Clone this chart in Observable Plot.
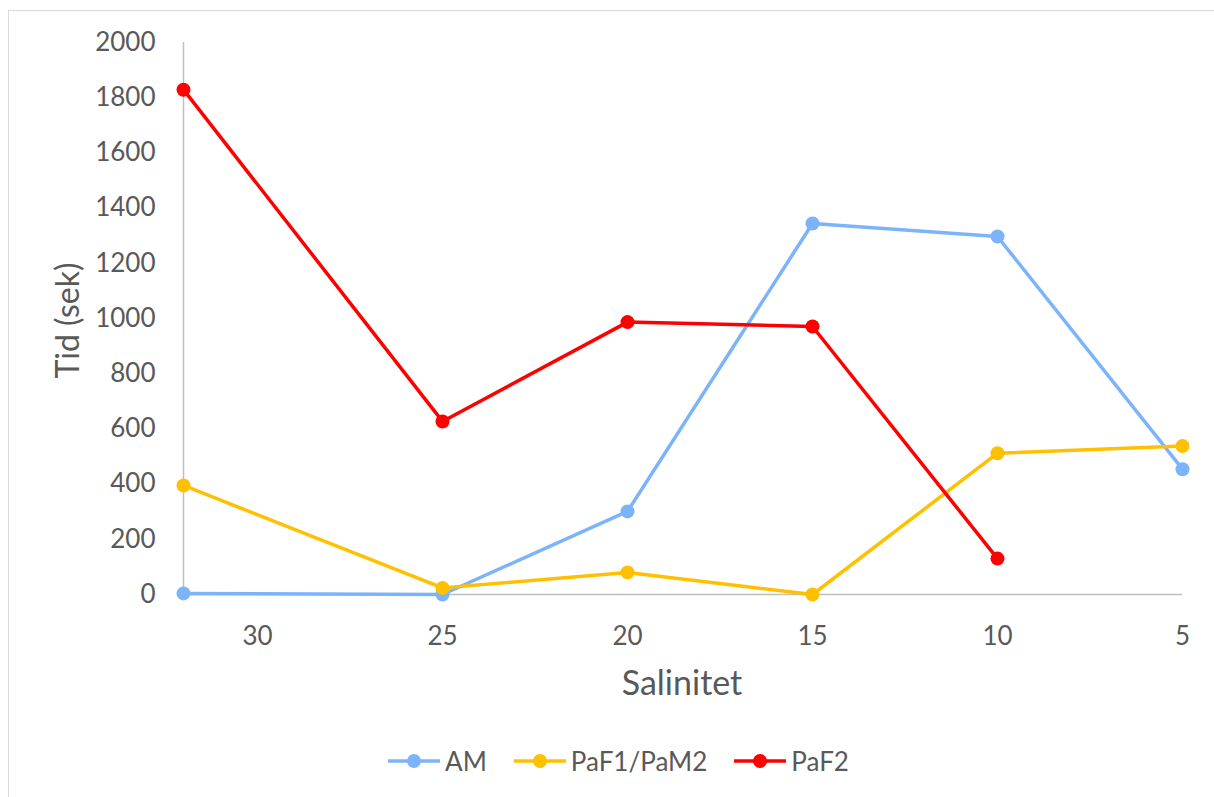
<!DOCTYPE html>
<html>
<head>
<meta charset="utf-8">
<script src="https://cdn.jsdelivr.net/npm/d3@7"></script>
<script src="https://cdn.jsdelivr.net/npm/@observablehq/plot@0.6"></script>
<style>
  html, body { margin: 0; padding: 0; background: #fff; overflow: hidden; }
  #frame {
    position: absolute; left: 8px; top: 10px; width: 1230px; height: 820px;
    border: 1.5px solid #d9d9d9; box-sizing: border-box;
  }
  #chart { position: absolute; left: 0; top: 0; }
  #legend {
    position: absolute; left: 0; top: 745px; width: 1236px;
    display: flex; justify-content: center; align-items: center;
    font-family: Lato, sans-serif; font-size: 26px; color: #595959;
  }
  .item { display: flex; align-items: center; margin: 0 13px; }
  .item svg { margin-right: 4px; }
</style>
</head>
<body>
<div id="frame"></div>
<div id="chart"></div>
<div id="legend"></div>
<script>
// Salinity levels (x) and time in seconds (y) for each test group
const salinity = [32, 25, 20, 15, 10, 5];
const xTicks = [30, 25, 20, 15, 10, 5];
const yTicks = [0, 200, 400, 600, 800, 1000, 1200, 1400, 1600, 1800, 2000];

const seriesNames = ["AM", "PaF1/PaM2", "PaF2"];
const seriesColors = ["#7cb4fb", "#ffc000", "#ff0000"];

const am   = [4, 0, 301, 1344, 1297, 454];
const paf1 = [395, 24, 80, 0, 512, 538];
const paf2 = [1829, 627, 987, 971, 130, null];

const values = [am, paf1, paf2];
const rows = seriesNames.flatMap((name, i) =>
  salinity.map((s, j) => ({series: name, salinity: s, tid: values[i][j]}))
    .filter(d => d.tid != null)
);

const textColor = "#595959";
const axisColor = "#bfbfbf";

const chart = Plot.plot({
  width: 1214,
  height: 740,
  marginLeft: 183,
  marginRight: 32,
  marginTop: 42,
  marginBottom: 146,
  style: {fontFamily: "Lato, sans-serif", background: "transparent", overflow: "visible"},
  x: {domain: [32, 5], ticks: xTicks},
  y: {domain: [0, 2000], ticks: yTicks},
  color: {domain: seriesNames, range: seriesColors},
  marks: [
    Plot.ruleX([32], {stroke: axisColor, strokeWidth: 1.5}),
    Plot.ruleY([0], {stroke: axisColor, strokeWidth: 1.5}),
    Plot.axisY({
      ticks: yTicks, tickSize: 0, tickPadding: 28, tickFormat: d => String(d),
      fontSize: 26, fill: textColor, label: null
    }),
    Plot.axisX({
      ticks: xTicks, tickSize: 0, tickPadding: 32, tickFormat: d => String(d),
      fontSize: 26, fill: textColor, label: null
    }),
    Plot.text(["Tid (sek)"], {
      frameAnchor: "left", textAnchor: "middle", dx: -115, dy: 2, rotate: -90,
      fontSize: 32, fill: textColor
    }),
    Plot.text(["Salinitet"], {
      frameAnchor: "bottom", dy: 100, dx: -1,
      fontSize: 34, fill: textColor
    }),
    Plot.line(rows, {
      x: "salinity", y: "tid", z: "series", stroke: "series",
      strokeWidth: 3.5, strokeLinejoin: "round", strokeLinecap: "round"
    }),
    Plot.dot(rows, {
      x: "salinity", y: "tid", fill: "series", r: 7, stroke: "none"
    })
  ]
});
document.getElementById("chart").appendChild(chart);

// Legend: line-and-marker swatch followed by the series name
const legend = d3.select("#legend");
seriesNames.forEach((name, i) => {
  const item = legend.append("div").attr("class", "item");
  const sw = item.append("svg").attr("width", 54).attr("height", 20);
  sw.append("line").attr("x1", 1).attr("x2", 53).attr("y1", 10).attr("y2", 10)
    .attr("stroke", seriesColors[i]).attr("stroke-width", 3.5);
  sw.append("circle").attr("cx", 27).attr("cy", 10).attr("r", 7)
    .attr("fill", seriesColors[i]);
  item.append("span").text(name);
});
</script>
</body>
</html>
